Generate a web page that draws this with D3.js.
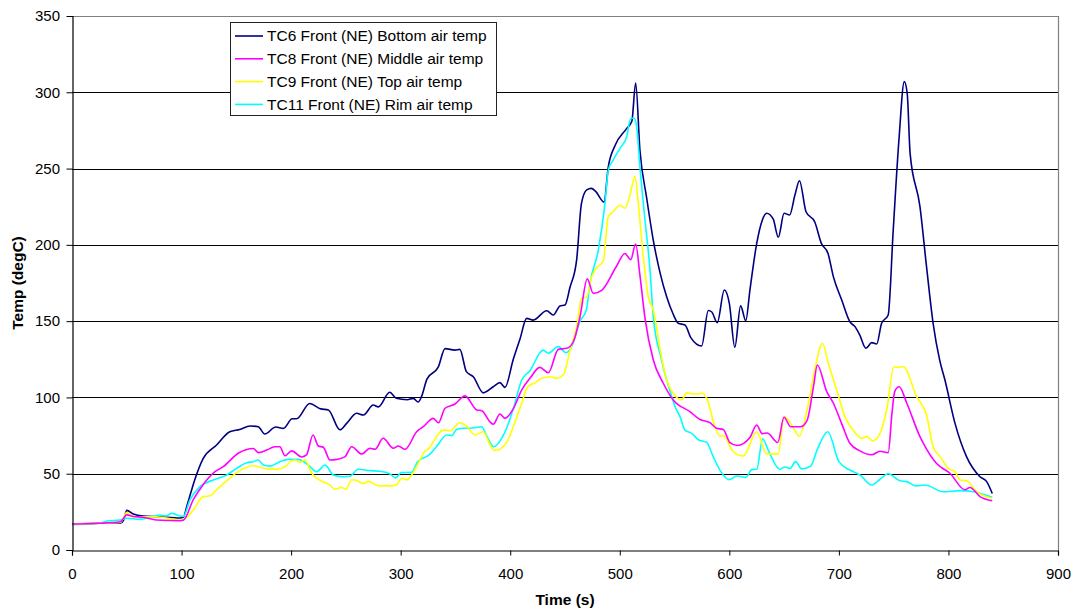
<!DOCTYPE html>
<html>
<head>
<meta charset="utf-8">
<script src="https://cdn.jsdelivr.net/npm/d3@7"></script>
<style>
  html, body { margin: 0; padding: 0; background: #fff; }
  svg { display: block; font-family: "Liberation Sans", Arial, sans-serif; }
</style>
</head>
<body>
<svg id="chart" width="1076" height="612"></svg>
<script>
// ---- data (time s, temp degC) ----
const seriesNames = [
  "TC6 Front (NE) Bottom air temp",
  "TC8 Front (NE) Middle air temp",
  "TC9 Front (NE) Top air temp",
  "TC11 Front (NE) Rim air temp"
];
const seriesColors = ["#000080", "#FF00FF", "#FFFF00", "#00FFFF"];

const tc6 = [[0,17],[25,17.5],[44,17.5],[47,19.5],[50,26],[56,23.6],[65,22.3],[80,21.8],[98.6,21],[101.6,21.4],[104.7,28.4],[112,45.9],[119.8,60],[132,68.8],[144,77.5],[153,79],[162.5,81.3],[170,80.8],[176,76],[186,80.6],[193,79.7],[201,86],[205,86],[217,96],[227,92.5],[234,91.8],[244.6,78.8],[250.7,83],[259.8,89.6],[266,88.5],[275,95],[279.6,93.8],[290,103.4],[296,99.4],[306,98.5],[311.5,99.4],[316,97],[319,100.5],[324,112],[334.4,120],[340.5,132],[349.6,131],[354,131.5],[360,116.9],[366.3,113.6],[375.4,103],[384.5,107],[390.6,109.7],[395.2,106.6],[402.8,125],[409,138.5],[415,151.8],[421,150.7],[433.3,156.8],[439.3,154],[445.4,160],[450,160.6],[454.5,172],[460.6,190],[465,227],[469.8,236],[474,237],[478,235],[485.6,228],[489.5,251],[495.6,265],[506,276],[511,281],[514.5,306],[518.4,262],[524.5,231],[530.6,203],[537,181],[542.8,166],[548.5,155],[553.4,148.6],[559.5,147.5],[565,139],[574.7,133.7],[580.8,157],[584,156],[589,149],[595.4,170.4],[600,161.7],[605,132.9],[610.3,160],[615,150.3],[618.8,170.4],[625,201],[630,216],[634,220.7],[640,217],[644.7,205],[650,220.7],[655,219.6],[660,233],[664,242],[670,221.7],[678,215],[684,201],[690,194.5],[695,179],[702.5,164],[710,149.6],[714.7,146.4],[719,141],[724.7,132.2],[730,135.9],[734.5,135],[739,148.6],[745,154],[749.6,209.7],[754.8,268.7],[759.7,307],[762.4,299],[765,260],[774,225],[780,185.7],[786,148.6],[792,124.5],[796.8,111.4],[806,83],[816.6,61],[828.8,48],[834.9,44.8],[840,37]];

const tc8 = [[0,17],[25,17.5],[44,18.5],[50,23],[56,22],[65,21.5],[77,19.7],[98.6,19.2],[102,19.7],[110.7,33],[116,39],[123,45.9],[130.5,51.3],[138,54.6],[151.8,63.4],[165.5,66.5],[170,63.8],[177.7,65.5],[185,67.7],[189.7,67.7],[194.4,61.8],[200.5,65],[209.6,61],[214,62.3],[220,75.4],[224.8,68.2],[229.4,67.3],[235.5,59],[241.6,59.4],[249,61],[255.3,67.7],[264.4,62.9],[272,66.7],[276.6,66],[284,73.2],[293.3,66.7],[297.8,68.2],[304,66],[314.6,77.5],[320.6,80.8],[329.8,86.3],[334.4,83.4],[340.5,92.9],[349.6,95.7],[358.7,101],[369.4,91.8],[374,91.3],[381.5,84],[384.5,82.4],[390.6,89.1],[395.2,86.3],[402.8,92.5],[410.5,104.9],[418,112.5],[427,119.7],[434.8,116.2],[443.9,131.5],[451.5,132.2],[457.6,136.5],[463.7,152.9],[470.3,177.7],[475.8,168.2],[483.5,170.2],[497,186],[504.7,194.3],[510,190.3],[514.5,200.6],[518.4,180],[523,152],[530.6,124.5],[539.7,109.3],[548.8,98.3],[564,90.7],[573.2,85.5],[582.3,83.5],[588.4,79.8],[594.5,79],[600.6,70.3],[607,68.5],[618.8,73.8],[625,81.9],[630,76.3],[634.5,76.7],[644.2,70.5],[649.9,87],[656,80.8],[665,80.8],[671,85],[677,108],[680.3,121.3],[688.8,104],[695,96.2],[703,82],[710,70],[719.2,65],[730,62.4],[737.5,64.7],[745,63.8],[748.5,90],[751,104],[755,107],[762,96.2],[774,74.3],[777,70],[789,56.8],[801.4,50.3],[815,39.5],[819.6,41],[828.8,35],[840,32.3]];

const tc9 = [[0,17],[25,17.5],[44,18],[50,24.5],[56,21.7],[77,21.8],[98.6,19.7],[102,20],[110.7,26.2],[119.8,35],[126,35.5],[132,39.5],[143,46.5],[153,52],[165.5,55.2],[178,53.2],[187,53],[196,55.3],[199,57.9],[203.5,59],[208,57.5],[212.7,59],[218.8,50.3],[226,45.9],[235.5,42.5],[240,39.8],[246,41],[250,39.8],[255.3,46],[260,45.5],[266,43.5],[270.5,45],[280,42],[290,42],[296,42.6],[301,47],[305.5,46],[310,49.2],[317.6,59],[320.7,63.4],[326.8,67.5],[329.8,71],[338.9,78.6],[345,78.2],[354,83.4],[360,81.3],[367.8,75.4],[375.4,77.5],[381.5,69],[385.5,65.3],[390.6,66],[394,68.2],[396.8,70.5],[402.8,80.8],[410.5,96.2],[416,107],[422.6,109.5],[428.7,112.5],[436.3,113.6],[442.4,112.5],[448.4,114.7],[454.5,130.5],[460.6,146.4],[465.2,165],[469.8,166],[474.3,179],[478.9,185],[485,189.5],[489.5,218.5],[494,221.7],[500,226],[504.7,224],[509.3,232.7],[513.9,244.7],[516.9,227],[521.5,192],[526,166],[530.6,157.3],[538,126.7],[542.8,111.4],[548.8,102.7],[556.5,98.3],[561,103],[568.6,102.2],[574.7,102.7],[579.3,99.5],[586.9,80.8],[591.4,74.5],[594.5,75],[603.6,64.4],[612.7,61.6],[625,77.5],[634,63],[644.7,63],[649.9,87.4],[656.9,82],[663.9,74.7],[670.6,90.5],[678,118],[685,135.5],[690.3,122.4],[698,104.9],[705.5,87.4],[713,78.6],[720.8,73.2],[725.3,74.3],[730.8,71.6],[736,74.3],[743.6,91.8],[750.3,120.1],[754.2,119.7],[758.8,120.1],[771,100.5],[780,88.5],[786,67.7],[792.3,61.2],[800,53.5],[806,51.3],[810.5,45.9],[816.6,45.4],[825.7,38.2],[840,33.9]];

const tc11 = [[0,16.5],[25,17.5],[31.6,19],[43.8,19.7],[50,20.8],[62,20.1],[74,21.8],[80,22.9],[86,22.3],[91,24],[98.6,22.3],[101.6,22],[107.7,32.8],[116.8,41.5],[129,45.9],[141.2,49.2],[150.3,53.5],[159.4,57.2],[165.5,57.9],[170,59],[174.6,55.7],[180.7,55],[189.8,57.9],[197.4,59.4],[206.5,59.4],[215.7,55.7],[223.3,51.3],[231,55.7],[238.5,49.2],[247.6,48],[253.7,48.3],[261.3,52.9],[272,52],[281,51.6],[290.3,49.8],[295.5,47.3],[300.5,50.7],[310,50.9],[315.5,57.9],[326,62.3],[333.5,68.5],[342,75.4],[346.6,74.9],[351,79],[357,79.8],[363.3,79.8],[374,80.8],[378.5,74.8],[385,67.7],[392.2,73.2],[396.8,80],[403,93],[410.5,111.4],[418,117.5],[430,131],[434.8,129],[443.9,133.3],[451,129.3],[456,133.3],[463.7,150],[469.5,157.3],[472.8,174.8],[480.4,196.6],[486.5,227.2],[489.5,249],[494,255.6],[500.2,263.3],[506.3,270.9],[510,283],[513,283],[515.4,277.5],[518.4,251],[523,216.3],[527.6,183.5],[530.6,153],[538,125],[542.8,111.4],[547.3,101],[550.4,94],[555,87.4],[559.5,78.6],[565.6,76.5],[571.6,72.4],[579.3,70.5],[585.3,61.2],[591.4,52.4],[600,46.1],[606.7,48.5],[615.2,47.6],[620.4,52.7],[625,52.9],[630.4,72.9],[635.5,65.5],[646,52.9],[650.8,54.4],[655.4,53.5],[660.4,57.9],[666,53.2],[674,54.8],[680.5,66.3],[689.8,77.5],[700,57.9],[710,52.4],[716.2,50.3],[719.2,49.2],[730,42.6],[736.8,45.9],[745,50],[755.7,45.4],[762,44.8],[770,42],[778.5,42.6],[795.3,38.2],[810.5,38.9],[822.7,38.2],[840,34.5]];

const xTicks = [0,100,200,300,400,500,600,700,800,900];
const yTicks = [0,50,100,150,200,250,300,350];
const xTitle = "Time (s)";
const yTitle = "Temp (degC)";

// ---- drawing ----
const svg = d3.select("#chart");
const L = 72, R = 1058, T = 16, B = 550;
const x = d3.scaleLinear().domain([0, 900]).range([L, R]);
const y = d3.scaleLinear().domain([0, 350]).range([B, T]);

// gridlines
svg.append("g").selectAll("line")
  .data(yTicks.filter(v => v > 0 && v < 350))
  .join("line")
  .attr("x1", L).attr("x2", R)
  .attr("y1", d => Math.round(y(d)) + 0.5).attr("y2", d => Math.round(y(d)) + 0.5)
  .attr("stroke", "#000").attr("stroke-width", 1);

// plot border top/right (grey)
svg.append("path")
  .attr("d", `M${L},${Math.round(T)+0.5}H${R+0.5}V${B}`)
  .attr("fill", "none").attr("stroke", "#808080").attr("stroke-width", 1.2);

// series
const line = d3.line().x(d => x(d[0])).y(d => y(d[1])).curve(d3.curveMonotoneX);
const allSeries = [tc6, tc8, tc9, tc11];
const drawOrder = [0, 3, 2, 1];
svg.append("g").selectAll("path")
  .data(drawOrder)
  .join("path")
  .attr("d", i => line(allSeries[i]))
  .attr("fill", "none")
  .attr("stroke", i => seriesColors[i])
  .attr("stroke-width", 1.6)
  .attr("stroke-linejoin", "round");

// axes
const yAxis = d3.axisLeft(y).tickValues(yTicks).tickSize(6).tickPadding(6).tickFormat(d3.format("d"));
const gy = svg.append("g").attr("transform", `translate(${L + 0.5},0)`).call(yAxis);
const xAxis = d3.axisBottom(x).tickValues(xTicks).tickSize(5).tickPadding(6).tickFormat(d3.format("d"));
const gx = svg.append("g").attr("transform", `translate(0,${B + 0.5})`).call(xAxis);
[gy, gx].forEach(g => {
  g.select(".domain").attr("stroke", "#000").attr("stroke-width", 1.2);
  g.selectAll(".tick line").attr("stroke", "#000");
  g.selectAll(".tick text").attr("fill", "#000")
    .style("font-family", '"Liberation Sans", Arial, sans-serif').style("font-size", "15px");
});
gy.select(".tick:last-of-type line").remove();
gy.selectAll(".tick text").attr("x", -12.5);
gx.selectAll(".tick text").attr("y", 0).attr("dy", 0).attr("transform", "translate(0,28)");

// axis titles
svg.append("text").attr("x", 565).attr("y", 605).attr("text-anchor", "middle")
  .style("font-size", "15.5px").style("font-weight", "bold").text(xTitle);
svg.append("text").attr("transform", "translate(23,283) rotate(-90)").attr("text-anchor", "middle")
  .style("font-size", "15.5px").style("font-weight", "bold").text(yTitle);

// legend
const lg = svg.append("g");
lg.append("rect").attr("x", 230.5).attr("y", 22.5).attr("width", 266).attr("height", 93)
  .attr("fill", "#fff").attr("stroke", "#222").attr("stroke-width", 1);
const rows = lg.selectAll("g.row").data(seriesNames).join("g").attr("class", "row")
  .attr("transform", (d, i) => `translate(0,${36 + i * 22.8})`);
rows.append("line").attr("x1", 235).attr("x2", 263).attr("y1", 0).attr("y2", 0)
  .attr("stroke", (d, i) => seriesColors[i]).attr("stroke-width", 1.6);
rows.append("text").attr("x", 267).attr("y", 0).attr("dy", "0.35em")
  .style("font-size", "15.5px").text(d => d);
</script>
</body>
</html>
